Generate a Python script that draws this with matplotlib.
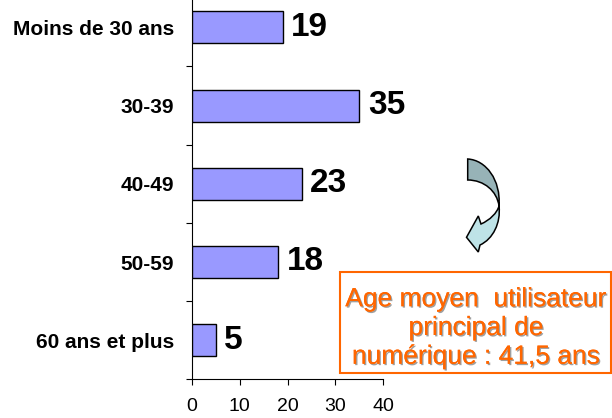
import matplotlib
matplotlib.use("Agg")
import matplotlib.pyplot as plt
import matplotlib.patheffects as pe
from matplotlib.path import Path
from matplotlib.patches import PathPatch, Rectangle
from matplotlib.ticker import FixedLocator

plt.rcParams['font.family'] = ['Liberation Sans', 'DejaVu Sans']

categories = ["Moins de 30 ans", "30-39", "40-49", "50-59", "60 ans et plus"]
values = [19, 35, 23, 18, 5]
xticks = [0, 10, 20, 30, 40]
note_text = "Age moyen  utilisateur\nprincipal de\nnumérique : 41,5 ans"

W, H = 612, 418
fig = plt.figure(figsize=(W / 100, H / 100), dpi=100)

def fx(x):
    return x / W

def fy(y):
    return 1 - y / H

ax_left = fx(192)
ax_right = fx(383.3)
ax_bottom = fy(379.3)
ax_top = fy(-11.7)
ax = fig.add_axes([ax_left, ax_bottom, ax_right - ax_left, ax_top - ax_bottom])

ypos = list(range(len(categories)))
ax.barh(ypos, values, height=0.41, color="#9999FF", edgecolor="black", linewidth=1.0, zorder=3)

for y, v in zip(ypos, values):
    ax.annotate(str(v), xy=(v, y), xytext=(6, 0), textcoords="offset points",
                ha="left", va="center", fontsize=24, fontweight="bold", color="black",
                annotation_clip=False)

ax.set_xlim(0, 40)
ax.set_ylim(len(categories) - 0.5, -0.5)
ax.set_xticks(xticks)
ax.set_xticklabels([str(t) for t in xticks], fontsize=14)
ax.set_yticks(ypos)
ax.set_yticklabels(categories, fontsize=15, fontweight="bold")
ax.yaxis.set_minor_locator(FixedLocator([i + 0.5 for i in range(-1, len(categories))]))

ax.tick_params(axis="y", which="major", length=0, pad=13)
ax.tick_params(axis="y", which="minor", length=4.3, width=0.8, direction="out", color="black")
ax.tick_params(axis="x", which="major", length=4.3, width=0.8, direction="out", pad=9.5)

for s in ["top", "right"]:
    ax.spines[s].set_visible(False)
for s in ["left", "bottom"]:
    ax.spines[s].set_linewidth(0.8)
    ax.spines[s].set_color("black")
ax.set_facecolor("none")

# Curved arrow decoration (figure pixel coordinates)
def P(pts):
    return [(fx(x), fy(y)) for x, y in pts]

upper_verts = P([(467.7, 159), (486, 160), (501, 180), (499, 206),
                 (497, 191), (484, 180), (467.7, 180), (467.7, 159)])
upper_codes = [Path.MOVETO, Path.CURVE4, Path.CURVE4, Path.CURVE4,
               Path.CURVE4, Path.CURVE4, Path.CURVE4, Path.CLOSEPOLY]
lower_verts = P([(499, 206), (501, 223), (493, 239), (480, 245),
                 (478.3, 252), (466.5, 237.3), (478.3, 216), (481, 224),
                 (490, 220), (497, 213), (499, 206), (499, 206)])
lower_codes = [Path.MOVETO, Path.CURVE4, Path.CURVE4, Path.CURVE4,
               Path.LINETO, Path.LINETO, Path.LINETO, Path.LINETO,
               Path.CURVE4, Path.CURVE4, Path.CURVE4, Path.CLOSEPOLY]
fig.patches.append(PathPatch(Path(lower_verts, lower_codes), facecolor="#BEE3E7",
                             edgecolor="black", linewidth=1.1, transform=fig.transFigure))
fig.patches.append(PathPatch(Path(upper_verts, upper_codes), facecolor="#97B3B7",
                             edgecolor="black", linewidth=1.1, transform=fig.transFigure))

# Note box
fig.patches.append(Rectangle((fx(340), fy(373.3)), fx(611) - fx(340), fy(272.3) - fy(373.3),
                             facecolor="white", edgecolor="#FF6600", linewidth=1.5,
                             transform=fig.transFigure))
fig.text(fx(476), fy(328), note_text, ha="center", va="center", fontsize=19,
         color="#FF6600", linespacing=1.25, multialignment="center",
         path_effects=[pe.withSimplePatchShadow(offset=(1.0, -1.0), shadow_rgbFace="#606060", alpha=0.6),
                       pe.Normal()])

fig.savefig("out.png", dpi=100)
